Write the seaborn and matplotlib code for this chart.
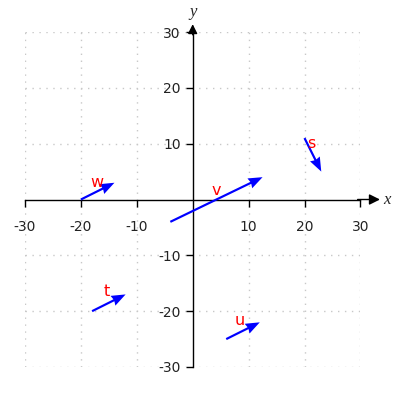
import numpy as np
import pandas as pd
import seaborn as sns
import matplotlib.pyplot as plt

# vectors: name, start point, components
names = ["w", "v", "s", "t", "u"]
x0 = [-20, -4, 20, -18, 6]
y0 = [0, -4, 11, -20, -25]
dx = [6, 16.5, 3, 6, 6]
dy = [3, 8, -6, 3, 3]
# label positions
lab_x = [-17.2, 4.2, 21.3, -15.3, 8.5]
lab_y = [3.0, 1.6, 10.1, -16.5, -21.7]
ticks = [-30, -20, -10, 10, 20, 30]

df = pd.DataFrame({"name": names, "x0": x0, "y0": y0, "dx": dx, "dy": dy,
                   "lx": lab_x, "ly": lab_y})

sns.set_style("white")
plt.rcParams['font.family'] = ['DejaVu Sans']
plt.rcParams['axes.unicode_minus'] = False

fig = plt.figure(figsize=(4, 4), dpi=100)
ax = fig.add_axes([0.0625, 0.0825, 0.8385, 0.8375])
ax.set_xlim(-30, 30)
ax.set_ylim(-30, 30)

# axes through origin
ax.spines['left'].set_position(('data', 0))
ax.spines['bottom'].set_position(('data', 0))
ax.spines['top'].set_visible(False)
ax.spines['right'].set_visible(False)
for sp in ['left', 'bottom']:
    ax.spines[sp].set_color('black')
    ax.spines[sp].set_linewidth(1)

ax.set_xticks(ticks)
ax.set_yticks(ticks)
ax.tick_params(direction='out', length=5, width=1, colors='black',
               labelsize=10, labelcolor='#222222', bottom=True, left=True)
ax.tick_params(axis='x', pad=10)
ax.grid(True, linestyle=(0, (1, 4)), color='#c8c8c8', linewidth=1)
ax.set_axisbelow(True)

# axis arrowheads
ax.annotate('', xy=(33.5, 0), xytext=(29.5, 0),
            arrowprops=dict(arrowstyle='-|>', color='black', lw=1,
                            mutation_scale=16, shrinkA=0, shrinkB=0),
            annotation_clip=False)
ax.annotate('', xy=(0, 31.4), xytext=(0, 29.5),
            arrowprops=dict(arrowstyle='-|>', color='black', lw=1,
                            mutation_scale=14, shrinkA=0, shrinkB=0),
            annotation_clip=False)
ax.text(34.0, 0, 'x', fontsize=12, family='Liberation Serif', style='italic',
        ha='left', va='center', clip_on=False)
ax.text(0, 33.6, 'y', fontsize=12, family='Liberation Serif', style='italic',
        ha='center', va='center', clip_on=False)

# vectors
ax.quiver(df["x0"], df["y0"], df["dx"], df["dy"], angles='xy',
          scale_units='xy', scale=1, color='blue', width=0.0065,
          headwidth=5, headlength=6.5, headaxislength=6, zorder=3)
for _, r in df.iterrows():
    ax.text(r["lx"], r["ly"], r["name"], color='red', fontsize=11.5,
            ha='center', va='center')

plt.savefig("out.png", dpi=100)
